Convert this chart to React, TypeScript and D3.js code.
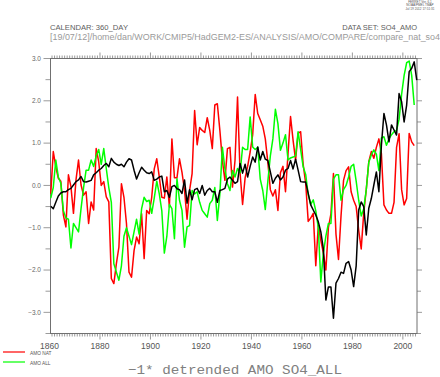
import React from "react";
import * as d3 from "d3";

const startYear = 1860;
const blackValues = [
  -0.49, -0.55, -0.4, -0.25, -0.18, -0.15, -0.15, -0.1, -0.07, 0.01,
  0.09, 0.13, 0.21, 0.09, 0.08, 0.1, 0.12, 0.25, 0.3, 0.36,
  0.4, 0.47, 0.52, 0.44, 0.64, 0.55, 0.5, 0.47, 0.5, 0.44,
  0.55, 0.63, 0.6, 0.36, 0.15, 0.3, 0.43, 0.36, 0.3, 0.28,
  0.32, 0.12, 0.15, 0.2, 0.22, -0.15, -0.12, -0.28, -0.03, 0.0,
  -0.08, -0.1, -0.19, 0.13, -0.42, -0.1, -0.34, -0.1, -0.07, -0.19,
  0.0, -0.23, -0.12, -0.07, -0.15, -0.15, -0.4, -0.12, -0.1, -0.07,
  0.15, 0.2, 0.12, 0.05, 0.09, 0.52, 0.29, 0.5, 0.2, 0.45,
  0.67, 0.55, 0.91, 0.6, 0.8, 0.62, 0.59, 0.32, 0.05, 0.17,
  0.25, 0.13, 0.2, 0.36, 0.4, 0.59, 0.39, 0.62, 0.36, 0.09,
  0.08, 0.08, -0.19, -0.46, -0.58, -0.7, -0.86, -1.1, -1.5, -2.71,
  -2.4, -2.4, -3.14, -2.31, -2.2, -2.05, -2.08, -1.84, -1.8, -2.0,
  -2.39, -1.9, -0.58, -0.39, -0.5, -1.17, -0.54, -0.31, 0.01, 0.32,
  -0.15, 0.95, 1.7, 1.43, 1.03, 1.43, 1.31, 1.19, 2.17, 1.98,
  1.5, 1.9, 2.69, 2.77, 2.92, 2.49,
];
const natValues = [
  -0.2, 0.8, 0.44, 0.17, 0.1, -0.7, -0.98, 0.25, -0.03, -0.66,
  0.13, 0.6, 0.01, -0.23, -0.15, -0.9, -0.39, -0.58, 0.87, 0.56,
  0.0, 0.09, -0.27, -0.39, -2.2, -2.32, -1.85, -1.46, 0.04, -0.28,
  -0.9, -2.05, -2.17, -1.54, -1.22, -1.38, -0.67, -1.73, -0.59, -0.67,
  -0.28, 0.39, 0.63, 0.2, -0.28, -0.3, 0.2, -0.51, 1.1, 0.18,
  0.18, 0.63, 0.31, -0.12, -0.8, -0.12, 0.28, 1.77, 0.96, 1.37,
  1.3, 1.25, 1.6, 1.3, 0.87, 1.9, 1.93, 1.3, 0.59, 0.12,
  0.87, 0.9, -0.04, 0.59, 2.09, 0.3, -0.45, 0.18, 0.45, 0.79,
  1.2, 2.15, 1.7, 1.55, 1.4, 1.1, 0.55, -0.1, -0.25, -0.1,
  -0.59, 0.3, 0.45, -0.15, 0.75, 1.63, 1.07, 0.6, 1.23, 1.27,
  0.5, 0.05, -0.85, -0.77, -0.66, -1.9, -0.95, -1.3, -1.6, -2.0,
  -1.0, -0.67, 0.28, -1.15, -1.75, -0.72, 0.12, 0.35, 0.44, -0.15,
  -0.35, -0.5, -1.06, -1.5, -0.65, -0.1, 0.56, 0.8, 0.64, 0.9,
  1.1, 0.75, -0.46, -0.58, -0.66, -0.66, -0.4, 0.9, 1.22, -0.1,
  -0.46, -0.31, 1.23, 1.03, 0.94,
];
const allValues = [
  -0.3, -0.05, 0.6, 0.2, 0.05, -0.6, -0.77, -0.8, -1.48, -0.9,
  -1.0, -1.1, -0.55, -0.05, 0.36, 0.36, 0.6, 0.45, 0.7, 0.85,
  0.5, 0.87, 0.4, -0.05, -0.4, -1.85, -2.05, -2.24, -1.9, -1.2,
  -1.0, -1.2, -1.4, -1.1, -0.8, -1.15, -0.55, -0.28, -0.38, -0.35,
  -0.66, -0.3, 0.1, -0.2, -0.6, -1.6, -1.2, -0.45, -0.55, -1.26,
  0.16, -0.35, -0.59, -1.46, -0.98, -0.95, -0.12, -0.2, -0.15, -0.4,
  -0.59, -0.67, -0.75, -0.43, -0.35, -0.05, -0.83, -0.2, 0.9, 0.39,
  0.04, -0.12, 0.35, 0.2, 0.4, 0.3, 0.9, 0.85, 0.85, 1.62,
  0.91, 0.85, 0.9, 0.15, -0.12, -0.57, 0.1, 0.7, 1.1, 1.8,
  1.46, 0.83, 1.0, 1.2, 0.6, 0.65, 0.67, 0.7, 1.27, 0.85,
  0.44, 0.26, -0.22, -0.45, -0.34, -0.6, -1.0, -2.28, -1.6, -1.2,
  -0.9, -0.9, 0.15, 0.25, 0.25, -0.35, -0.1, 0.0, 0.2, 0.45,
  0.5, 0.1, -0.35, -0.72, -0.55, -0.1, 0.55, 0.72, 0.84, 0.74,
  0.35, 1.12, 1.15, 0.95, 1.1, 1.2, 1.27, 1.3, 1.56, 2.15,
  2.6, 2.9, 2.94, 2.6, 1.9,
];
const xTickLabels = [1860, 1880, 1900, 1920, 1940, 1960, 1980, 2000];
const yTickLabels = [3, 2, 1, 0, -1, -2, -3];
const legendNames = ["AMO NAT", "AMO ALL"];
const stampLines = ["FERRET Ver. 6.1", "NOAA/PMEL TMAP", "Jul 19 2012 17:51:31"];

const W = 440, H = 377;
const L = 50.5, R = 417, T = 58.5, B = 333.5;

export default function App() {
  const x = d3.scaleLinear().domain([1860.4, 2005.6]).range([L, R]);
  const y = d3.scaleLinear().domain([-3.5, 3.0]).range([B, T]);
  const line = d3
    .line<number>()
    .x((_, i) => x(startYear + i + 0.5))
    .y((d) => y(d));

  const minorYears = d3.range(1861, 2006).filter((yr) => x(yr) >= L && x(yr) <= R);
  const halfSteps = d3.range(-3.5, 3.01, 0.5);
  const axisColor = "#707070";
  const fmt = (v: number) => (v < 0 ? "\u2212" + Math.abs(v).toFixed(1) : v.toFixed(1));

  return (
    <svg
      width={W}
      height={H}
      style={{ position: "absolute", left: 0, top: 0, background: "#fff" }}
      fontFamily="'Liberation Sans', Arial, sans-serif"
    >
      {/* Ferret stamp */}
      <g fill="#555" fontSize={3.1} textAnchor="middle">
        {stampLines.map((s, i) => (
          <text key={s} x={420} y={3 + i * 3.4}>
            {s}
          </text>
        ))}
      </g>
      <text x={50} y={30} fontSize={7.5} fill="#606060" textLength={78} lengthAdjust="spacingAndGlyphs">
        CALENDAR: 360_DAY
      </text>
      <text x={417} y={30} fontSize={7.5} fill="#606060" textAnchor="end">
        DATA SET: SO4_AMO
      </text>
      <text x={50} y={39.5} fontSize={8.5} fill="#9a9a9a" textLength={390} lengthAdjust="spacingAndGlyphs">
        [19/07/12]/home/dan/WORK/CMIP5/HadGEM2-ES/ANALYSIS/AMO/COMPARE/compare_nat_so4
      </text>

      {/* frame */}
      <rect x={L} y={T} width={R - L} height={B - T} fill="none" stroke={axisColor} strokeWidth={1} />

      {/* top & bottom ticks */}
      <g stroke={axisColor} strokeWidth={0.7}>
        {minorYears.map((yr) => {
          const big = yr % 20 === 0;
          const len = big ? 6 : 3;
          return (
            <g key={yr}>
              <line x1={x(yr)} x2={x(yr)} y1={T} y2={T - len} />
              <line x1={x(yr)} x2={x(yr)} y1={B} y2={B + len} />
            </g>
          );
        })}
        {halfSteps.map((v) => {
          const big = Math.abs(v - Math.round(v)) < 1e-6;
          return (
            <g key={v}>
              <line x1={L} x2={L - (big ? 7 : 5)} y1={y(v)} y2={y(v)} />
              <line x1={R} x2={R + (big ? 5 : 4)} y1={y(v)} y2={y(v)} />
            </g>
          );
        })}
      </g>

      {/* y labels */}
      <g fill="#666" fontSize={6.5} textAnchor="end">
        {yTickLabels.map((v) => (
          <text key={v} x={41} y={y(v)} dy="0.35em">
            {fmt(v)}
          </text>
        ))}
      </g>
      {/* x labels */}
      <g fill="#555" fontSize={8.5} textAnchor="middle">
        {xTickLabels.map((yr) => (
          <text key={yr} x={x(yr)} y={348.5}>
            {yr}
          </text>
        ))}
      </g>

      {/* series */}
      <g fill="none" strokeWidth={1.5} strokeLinejoin="round">
        <path d={line(natValues) || ""} stroke="#ff0000" />
        <path d={line(allValues) || ""} stroke="#00ff00" />
        <path d={line(blackValues) || ""} stroke="#000000" />
      </g>

      {/* legend */}
      <g fontSize={4.8} fill="#555">
        <line x1={3} x2={25} y1={352} y2={352} stroke="#ff0000" strokeWidth={1.2} />
        <text x={30} y={355}>{legendNames[0]}</text>
        <line x1={3} x2={25} y1={362} y2={362} stroke="#00ff00" strokeWidth={1.2} />
        <text x={30} y={365}>{legendNames[1]}</text>
      </g>

      <text
        x={235}
        y={373.5}
        fontSize={13}
        fill="#808080"
        textAnchor="middle"
        fontFamily="'Liberation Mono', 'DejaVu Sans Mono', monospace"
        textLength={214}
        lengthAdjust="spacingAndGlyphs"
      >
        {"\u22121* detrended AMO SO4_ALL"}
      </text>
    </svg>
  );
}
